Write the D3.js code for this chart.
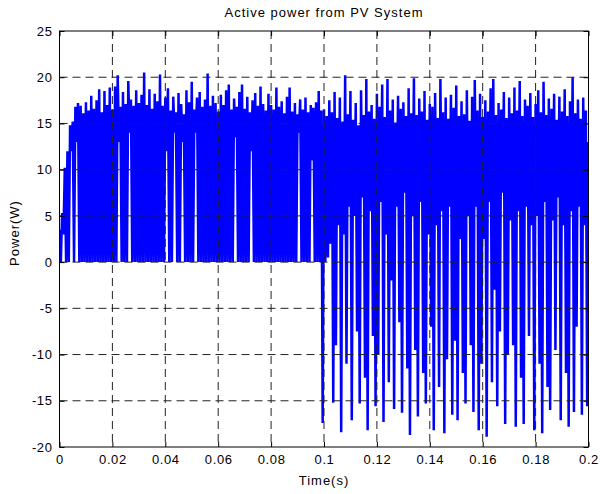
<!DOCTYPE html>
<html>
<head>
<meta charset="utf-8">
<script src="https://cdn.jsdelivr.net/npm/d3@7/dist/d3.min.js"></script>
<style>
  body { margin: 0; background: #fff; }
  text { font-family: "Liberation Sans", Arial, sans-serif; }
</style>
</head>
<body>
<svg id="sg"></svg>
<script>
let title = "Active power from PV System";
let xLabel = "Time(s)";
let yLabel = "Power(W)";
let xTicks = [0, 0.02, 0.04, 0.06, 0.08, 0.1, 0.12, 0.14, 0.16, 0.18, 0.2];
let yTicks = [-20, -15, -10, -5, 0, 5, 10, 15, 20, 25];

// signal: one peak per millisecond (at t) and one trough (at t + 0.5 ms)
let sampleStep = 0.001;
let peaks = [
  3.5, 5.3, 10.2, 12.0, 14.8, 15.2, 16.8, 17.2, 16.9, 16.1,
  17.3, 16.4, 18.0, 16.6, 17.5, 18.7, 16.2, 18.5, 17.0, 18.9,
  16.5, 19.0, 20.2, 16.8, 18.4, 17.1, 19.6, 17.6, 16.9, 18.6,
  17.2, 18.1, 20.5, 17.0, 18.7, 16.6, 18.2, 17.4, 20.3, 16.9,
  17.8, 18.8, 16.4, 17.9, 16.2, 18.3, 17.1, 16.0, 18.6, 17.3,
  19.5, 16.5, 17.8, 18.4, 16.8, 17.6, 20.4, 16.9, 18.0, 17.2,
  16.3, 18.1, 17.0, 18.6, 19.2, 16.5, 17.7, 16.8, 18.4, 19.2,
  16.6, 17.9, 16.2, 17.5, 18.3, 16.9, 19.0, 17.1, 16.4, 18.2,
  17.0, 16.5, 18.9, 16.8, 17.4, 16.1, 17.9, 18.9, 16.3, 17.2,
  16.0, 17.6, 16.5, 17.8, 16.2, 17.0, 16.7, 17.3, 18.5, 16.4,
  16.5, 15.8, 17.5, 16.2, 18.4, 15.6, 17.8, 15.2, 20.2, 16.0,
  18.5, 15.4, 17.2, 14.8, 18.6, 15.9, 19.8, 16.3, 17.0, 15.5,
  18.2, 16.8, 19.2, 15.7, 19.8, 16.4, 17.6, 15.1, 18.0, 16.6,
  17.3, 15.8, 18.8, 16.1, 19.9, 15.9, 17.7, 16.3, 18.5, 15.4,
  17.1, 16.8, 18.3, 15.6, 19.8, 16.2, 17.8, 15.5, 18.1, 16.7,
  19.1, 15.8, 17.4, 16.0, 18.6, 15.3, 17.9, 19.7, 16.4, 18.2,
  15.7, 17.5, 16.3, 18.8, 19.8, 15.9, 17.2, 16.5, 18.4, 15.6,
  17.8, 16.1, 18.9, 16.4, 19.6, 15.8, 17.6, 16.9, 18.3, 15.7,
  17.1, 18.6, 16.2, 19.5, 15.9, 17.7, 16.6, 18.2, 15.4, 17.9,
  16.3, 18.7, 15.8, 17.4, 20.0, 16.1, 17.6, 15.5, 17.8, 16.4,
  13.0
];
let troughs = [
  0, 3.0, 0, 0, 12.0, 0, 13.0, 0, 0, 0,
  0, 0, 0, 0, 0, 0, 0, 0, 0, 0,
  0, 0, 13.0, 0, 0, 0, 14.0, 0, 0, 0,
  0, 0, 0, 0, 0, 0, 0, 0, 0, 0,
  12.0, 0, 0, 14.0, 0, 0, 13.0, 0, 0, 0,
  0, 14.0, 0, 0, 0, 0, 0, 0, 0, 0,
  0, 0, 0, 0, 0, 0, 13.5, 0, 0, 0,
  0, 0, 12.0, 0, 0, 0, 0, 0, 0, 0,
  0, 0, 0, 0, 0, 0, 0, 0, 0, 0,
  14.0, 0, 0, 0, 0, 11.0, 0, 0, 0, -17.4,
  0, 0.5, 2.0, -15.2, -9.0, 4.0, -18.4, 3.0, -11.0, 6.0,
  -17.1, 5.0, -7.5, -15.3, 7.0, -12.5, -18.2, 5.5, -8.0, -15.6,
  -10.0, 6.5, -17.3, 3.0, -13.0, -2.0, -15.9, 6.0, -6.5, -16.3,
  7.5, -11.5, -18.7, 5.0, -9.5, -16.7, 6.5, -12.0, -15.3, 3.0,
  -7.0, -18.2, 4.0, -13.5, 5.5, -18.5, -10.5, 6.0, -16.5, -8.5,
  -17.1, 2.5, -12.0, -15.3, 5.0, -9.0, -16.2, 6.0, -18.2, -11.0,
  2.5, -18.9, 6.5, -13.0, -3.0, -15.6, -7.5, 7.5, -17.5, -10.0,
  4.5, -9.0, -17.8, 5.5, -12.5, -17.5, 6.0, -8.0, 4.0, -18.2,
  5.0, -11.0, -18.5, 6.5, -13.5, -16.0, 4.5, -9.5, 7.0, -17.1,
  4.0, -12.0, -17.8, 5.5, -16.2, -7.0, 6.0, -16.5, 4.0, -15.6
];

let svgWidth = 600,
  svgHeight = 494;
let margin = { top: 31, right: 11.5, bottom: 47, left: 59.5 };
let width = svgWidth - margin.left - margin.right;
let height = svgHeight - margin.top - margin.bottom;

let data = [];
peaks.forEach(function(p, i) {
  data.push({ time: i * sampleStep, value: p });
  if (i < troughs.length) data.push({ time: (i + 0.5) * sampleStep, value: troughs[i] });
});

let svg = d3
  .select("#sg")
  .attr("width", svgWidth)
  .attr("height", svgHeight);

let g = svg
  .append("g")
  .attr("transform", "translate(" + margin.left + "," + margin.top + ")");

let x = d3.scaleLinear().domain([0, 0.2]).range([0, width]);
let y = d3.scaleLinear().domain([-20, 25]).range([height, 0]);

g.append("clipPath")
  .attr("id", "clip")
  .append("rect")
  .attr("width", width)
  .attr("height", height);

let line = d3
  .line()
  .x(function(d) {
    return x(d.time);
  })
  .y(function(d) {
    return y(d.value);
  });

g.append("path")
  .datum(data)
  .attr("clip-path", "url(#clip)")
  .attr("fill", "none")
  .attr("stroke", "#0000ff")
  .attr("stroke-width", 2.5)
  .attr("stroke-linejoin", "bevel")
  .attr("d", line);

// dashed grid, drawn over the trace like the original
g.append("g")
  .selectAll("line")
  .data(xTicks.slice(1, -1))
  .enter()
  .append("line")
  .attr("x1", d => x(d))
  .attr("x2", d => x(d))
  .attr("y1", 0)
  .attr("y2", height)
  .attr("stroke", "#222")
  .attr("stroke-width", 1)
  .attr("stroke-dasharray", "8,5");

g.append("g")
  .selectAll("line")
  .data(yTicks.slice(1, -1))
  .enter()
  .append("line")
  .attr("x1", 0)
  .attr("x2", width)
  .attr("y1", d => y(d))
  .attr("y2", d => y(d))
  .attr("stroke", "#222")
  .attr("stroke-width", 1)
  .attr("stroke-dasharray", "8,5");

let fmt = d => String(d);

let xAxis = g
  .append("g")
  .attr("transform", "translate(0," + height + ")")
  .call(d3.axisBottom(x).tickValues(xTicks).tickFormat(fmt).tickSizeInner(-5).tickSizeOuter(0).tickPadding(8));
let xTop = g
  .append("g")
  .call(d3.axisTop(x).tickValues(xTicks).tickFormat("").tickSizeInner(-5).tickSizeOuter(0));
let yAxis = g
  .append("g")
  .call(d3.axisLeft(y).tickValues(yTicks).tickFormat(fmt).tickSizeInner(-5).tickSizeOuter(0).tickPadding(7));
let yRight = g
  .append("g")
  .attr("transform", "translate(" + width + ",0)")
  .call(d3.axisRight(y).tickValues(yTicks).tickFormat("").tickSizeInner(-5).tickSizeOuter(0));

[xAxis, xTop, yAxis, yRight].forEach(function(a) {
  a.select(".domain").remove();
  a.selectAll("text")
    .attr("font-family", "'Liberation Sans', Arial, sans-serif")
    .attr("font-size", 13)
    .attr("letter-spacing", 0.6)
    .attr("fill", "#000");
  a.selectAll("line").attr("stroke", "#000");
});

g.append("rect")
  .attr("width", width)
  .attr("height", height)
  .attr("fill", "none")
  .attr("stroke", "#000")
  .attr("stroke-width", 1);

svg.append("text")
  .attr("x", margin.left + width / 2)
  .attr("y", 17)
  .attr("text-anchor", "middle")
  .attr("font-size", 13)
  .attr("letter-spacing", 1)
  .text(title);

svg.append("text")
  .attr("x", margin.left + width / 2)
  .attr("y", 485)
  .attr("text-anchor", "middle")
  .attr("font-size", 13)
  .attr("letter-spacing", 1)
  .text(xLabel);

svg.append("text")
  .attr("transform", "translate(19,233) rotate(-90)")
  .attr("text-anchor", "middle")
  .attr("font-size", 13)
  .attr("letter-spacing", 1)
  .text(yLabel);
</script>
</body>
</html>
